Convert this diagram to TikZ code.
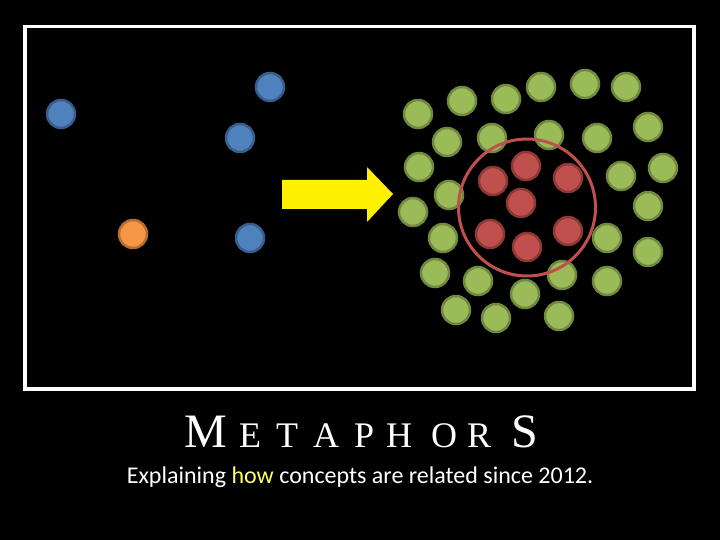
\documentclass[tikz,border=0pt]{standalone}
\usepackage{fontspec}
\setmainfont{Liberation Serif}
\newfontfamily\subfont{Carlito}
\usetikzlibrary{positioning}
\definecolor{dotblue}{HTML}{4F81BD}
\definecolor{dotblueline}{HTML}{385D8A}
\definecolor{dotorange}{HTML}{F79646}
\definecolor{dotorangeline}{HTML}{B66D31}
\definecolor{dotgreen}{HTML}{9BBB59}
\definecolor{dotgreenline}{HTML}{71893F}
\definecolor{dotred}{HTML}{C0504D}
\definecolor{dotredline}{HTML}{8C3836}
\definecolor{howyellow}{HTML}{FFFF66}
\tikzstyle{dot} = [circle,draw,line width=2.5,inner sep=0,minimum size=28]
\tikzstyle{bluedot} = [dot,fill=dotblue,draw=dotblueline]
\tikzstyle{orangedot} = [dot,fill=dotorange,draw=dotorangeline]
\tikzstyle{greendot} = [dot,fill=dotgreen,draw=dotgreenline]
\tikzstyle{reddot} = [dot,fill=dotred,draw=dotredline]
\tikzstyle{bigletter} = [anchor=base west,white,inner sep=0,font=\fontsize{48}{50}\selectfont]
\tikzstyle{letter} = [anchor=base west,white,inner sep=0,font=\fontsize{36}{40}\selectfont]
\begin{document}
\begin{tikzpicture}[x=1pt,y=-1pt]
    \fill [black] (0,0) rectangle (720,540);
    \useasboundingbox (0,0) rectangle (720,540);
    \draw [white,line width=3.3] (25,26.7) rectangle (694,389);

    % before
    \node [bluedot] (b1) at (61,114) {};
    \node [bluedot] (b2) at (270,87) {};
    \node [bluedot] (b3) at (240,138) {};
    \node [bluedot] (b4) at (250,238) {};
    \node [orangedot] (o1) at (133,234) {};

    % arrow
    \fill [yellow] (282,180) -- (367,180) -- (367,167) -- (393,194) -- (367,222) -- (367,209) -- (282,209) -- cycle;

    % after
    \node [greendot] (g01) at (418,114) {};
    \node [greendot] (g02) at (462,101) {};
    \node [greendot] (g03) at (506,99) {};
    \node [greendot] (g04) at (541,87) {};
    \node [greendot] (g05) at (585,84) {};
    \node [greendot] (g06) at (626,87) {};
    \node [greendot] (g07) at (447,142) {};
    \node [greendot] (g08) at (492,138) {};
    \node [greendot] (g09) at (549,135) {};
    \node [greendot] (g10) at (597,138) {};
    \node [greendot] (g11) at (648,127) {};
    \node [greendot] (g12) at (419,167) {};
    \node [greendot] (g13) at (663,168) {};
    \node [greendot] (g14) at (621,176) {};
    \node [greendot] (g15) at (449,195) {};
    \node [greendot] (g16) at (413,212) {};
    \node [greendot] (g17) at (648,206) {};
    \node [greendot] (g18) at (443,238) {};
    \node [greendot] (g19) at (607,238) {};
    \node [greendot] (g20) at (648,252) {};
    \node [greendot] (g21) at (435,273) {};
    \node [greendot] (g22) at (478,281) {};
    \node [greendot] (g23) at (562,275) {};
    \node [greendot] (g24) at (607,281) {};
    \node [greendot] (g25) at (525,294) {};
    \node [greendot] (g26) at (456,310) {};
    \node [greendot] (g27) at (496,318) {};
    \node [greendot] (g28) at (559,316) {};

    \node [reddot] (r1) at (493,181) {};
    \node [reddot] (r2) at (526,166) {};
    \node [reddot] (r3) at (568,178) {};
    \node [reddot] (r4) at (521,203) {};
    \node [reddot] (r5) at (490,234) {};
    \node [reddot] (r6) at (527,247) {};
    \node [reddot] (r7) at (568,231) {};
    \draw [dotred,line width=3] (527,207.5) circle (68.5);

    % caption
    \node [bigletter] (t1) at (184,447) {M};
    \node [letter] (t2) at (239,447) {E};
    \node [letter] (t3) at (276,447) {T};
    \node [letter] (t4) at (313,447) {A};
    \node [letter] (t5) at (354,447) {P};
    \node [letter] (t6) at (386,447) {H};
    \node [letter] (t7) at (431,447) {O};
    \node [letter] (t8) at (467,447) {R};
    \node [bigletter] (t9) at (511,447) {S};
    \node [anchor=base,white,inner sep=0] (sub) at (360,483)
        {\subfont\fontsize{24}{28}\selectfont Explaining \textcolor{howyellow}{how} concepts are related since 2012.};
\end{tikzpicture}
\end{document}
